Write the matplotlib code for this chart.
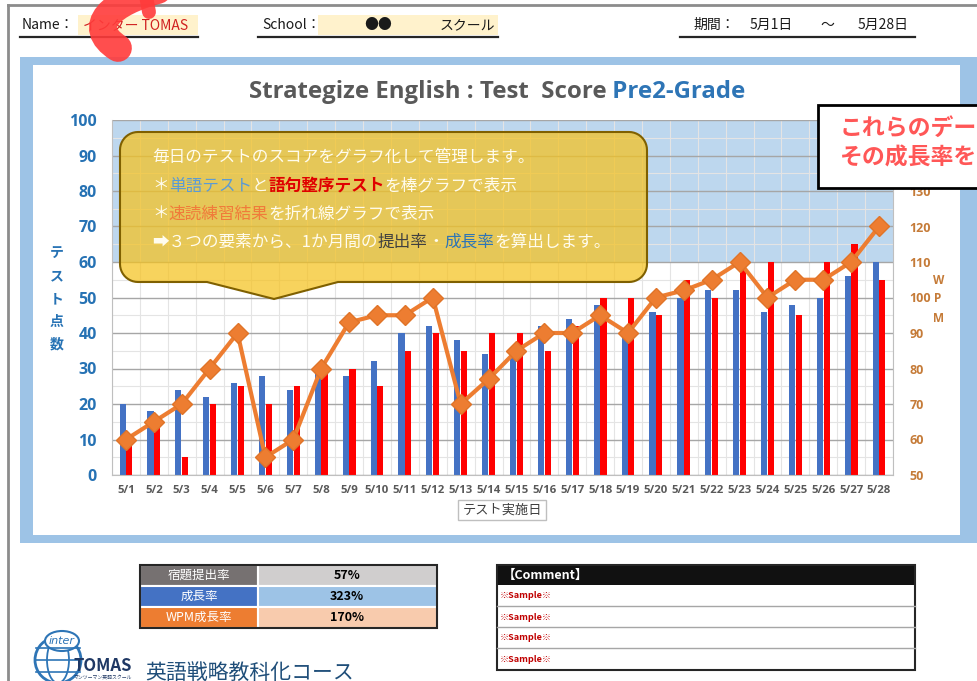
import numpy as np
import matplotlib.pyplot as plt
from matplotlib.patches import Rectangle, PathPatch, Circle, Ellipse
from matplotlib.path import Path

plt.rcParams['font.family'] = ['Open Sans', 'Noto Sans CJK JP', 'DejaVu Sans']
JP = ['Noto Sans CJK JP', 'DejaVu Sans']
NARROW = ['Liberation Sans Narrow', 'Noto Sans CJK JP', 'DejaVu Sans']

W, H = 977, 681

# ---- data ----
dates = ['5/1', '5/2', '5/3', '5/4', '5/5', '5/6', '5/7', '5/8', '5/9', '5/10',
         '5/11', '5/12', '5/13', '5/14', '5/15', '5/16', '5/17', '5/18', '5/19',
         '5/20', '5/21', '5/22', '5/23', '5/24', '5/25', '5/26', '5/27', '5/28']
vocab_score = [20, 18, 24, 22, 26, 28, 24, 30, 28, 32, 40, 42, 38, 34,
               34, 42, 44, 48, 40, 46, 50, 52, 52, 46, 48, 50, 56, 60]
order_score = [10, 15, 5, 20, 25, 20, 25, 30, 30, 25, 35, 40, 35, 40,
               40, 35, 42, 50, 50, 45, 55, 50, 60, 60, 45, 60, 65, 55]
wpm = [60, 65, 70, 80, 90, 55, 60, 80, 93, 95, 95, 100, 70, 77,
       85, 90, 90, 95, 90, 100, 102, 105, 110, 100, 105, 105, 110, 120]

score_ticks = [0, 10, 20, 30, 40, 50, 60, 70, 80, 90, 100]
wpm_ticks = [50, 60, 70, 80, 90, 100, 110, 120, 130, 140, 150]
# 140 and 150 sit under the red note box in the original
wpm_labels = ['50', '60', '70', '80', '90', '100', '110', '120', '130', '', '']

summary_labels = ['宿題提出率', '成長率', 'WPM成長率']
summary_values = ['57%', '323%', '170%']
comments = ['※Sample※', '※Sample※', '※Sample※', '※Sample※']


def box(l, t, r, b):
    return [l / W, 1 - b / H, (r - l) / W, (b - t) / H]


fig = plt.figure(figsize=(W / 100, H / 100), dpi=100)
fig.patch.set_facecolor('white')
renderer = fig.canvas.get_renderer()

bg = fig.add_axes([0, 0, 1, 1], zorder=0)
bg.set_xlim(0, W)
bg.set_ylim(H, 0)
bg.axis('off')

fg = fig.add_axes([0, 0, 1, 1], zorder=3)
fg.set_xlim(0, W)
fg.set_ylim(H, 0)
fg.axis('off')
fg.patch.set_visible(False)


def rich(axo, x, y, parts, center=False, **kw):
    texts = []
    cx = x
    for s, props in parts:
        p = dict(kw)
        p.update(props)
        t = axo.text(cx, y, s, ha='left', va='center', **p)
        cx += t.get_window_extent(renderer).width
        texts.append(t)
    if center:
        shift = (cx - x) / 2
        for t in texts:
            t.set_x(t.get_position()[0] - shift)


# page border
bg.plot([8, 8], [5, H], color='#8C8C8C', lw=2)
bg.plot([8, W], [5, 5], color='#8C8C8C', lw=2)

# header
bg.add_patch(Rectangle((78, 15), 120, 20, fc='#FFF2CC', ec='none'))
bg.add_patch(Rectangle((318, 15), 180, 20, fc='#FFF2CC', ec='none'))
for x0, x1 in [(20, 198), (258, 498), (680, 915)]:
    bg.plot([x0, x1], [37, 37], color='#262626', lw=1.6)
hkw = dict(va='center', fontsize=10, family=NARROW, color='#1A1A1A')
bg.text(22, 25, 'Name：', **hkw)
bg.text(83, 25, 'インター TOMAS', **{**hkw, 'color': '#D02020'})
bg.text(262, 25, 'School：', **hkw)
bg.text(378, 25, '●●', ha='center', **hkw)
bg.text(440, 25, 'スクール', **hkw)
bg.text(693, 25, '期間：', **hkw)
bg.text(750, 25, '5月1日', **hkw)
bg.text(820, 25, '～', **hkw)
bg.text(858, 25, '5月28日', **hkw)

# chart frame
bg.add_patch(Rectangle((20, 57), W - 20, 486, fc='#9DC3E6', ec='none'))
bg.add_patch(Rectangle((33, 65), 927, 470, fc='white', ec='none'))

rich(bg, 497, 92, [('Strategize English : Test  Score', dict(color='#595959')),
                   (' Pre2-Grade', dict(color='#2E75B6'))],
     center=True, fontsize=17.3, fontweight='bold', family=['Open Sans'])

# main chart
ax = fig.add_axes(box(112, 120, 893, 475), zorder=1)
ax.set_facecolor('none')
x = np.arange(len(dates))
ax.axhspan(60, 100, color='#BDD7EE', zorder=0, lw=0)
ax.bar(x - 0.12, vocab_score, 0.22, color='#4472C4', zorder=2)
ax.bar(x + 0.12, order_score, 0.22, color='#FF0000', zorder=2)
ax.set_xlim(-0.5, len(dates) - 0.5)
ax.set_ylim(0, 100)
ax.set_yticks(score_ticks, labels=[str(v) for v in score_ticks],
              fontweight='bold', fontsize=11.5, color='#2672B4')
ax.set_yticks(np.arange(0, 101, 5), minor=True)
ax.set_xticks(x, labels=dates, fontweight='bold', fontsize=8.2, color='#595959')
ax.set_xticks(np.arange(-0.5, len(dates), 1), minor=True)
ax.yaxis.grid(True, which='major', color='#A6A6A6', lw=1)
ax.yaxis.grid(True, which='minor', color='#E4E4E4', lw=0.8)
ax.xaxis.grid(True, which='minor', color='#E4E4E4', lw=0.8)
ax.set_axisbelow(True)
ax.tick_params(axis='y', which='both', length=0, pad=11)
ax.tick_params(axis='x', which='both', length=0, pad=7)
for s in ['left', 'bottom', 'right']:
    ax.spines[s].set_color('#BFBFBF')
ax.spines['top'].set_visible(False)

ax2 = ax.twinx()
ax2.set_zorder(2)
ax2.patch.set_visible(False)
ax2.plot(x, wpm, color='#ED7D31', lw=3, marker='D', ms=10,
         mfc='#ED7D31', mec='#E07428', mew=1)
ax2.set_ylim(50, 150)
ax2.set_yticks(wpm_ticks, labels=wpm_labels,
               fontweight='bold', fontsize=9, color='#C57B38')
ax2.tick_params(axis='y', length=0, pad=12)
for s in ax2.spines.values():
    s.set_visible(False)

# axis titles
for ch, yy in zip('テスト点数', [253, 276, 299, 322, 345]):
    bg.text(57, yy, ch, ha='center', va='center', fontsize=10,
            fontweight='bold', color='#2672B4', family=JP)
for ch, xx, yy in zip('WPM', [939, 938, 939], [280, 299, 318]):
    bg.text(xx, yy, ch, ha='center', va='center', fontsize=8.5,
            fontweight='bold', color='#C57B38', family=['Open Sans'])
bg.text(502, 510, 'テスト実施日', ha='center', va='center', fontsize=9.5,
        color='#404040', family=JP,
        bbox=dict(boxstyle='square,pad=0.3', fc='white', ec='#BFBFBF', lw=1))

# yellow callout
x0, x1, y0, y1, r = 120, 647, 132, 282, 18
xa, xb, apx, apy = 207, 338, 274, 299


def arc(cx, cy, a0, a1):
    t = np.radians(np.linspace(a0, a1, 12))
    return list(zip(cx + r * np.cos(t), cy + r * np.sin(t)))


pts = [(x0 + r, y0), (x1 - r, y0)]
pts += arc(x1 - r, y0 + r, -90, 0)
pts += [(x1, y1 - r)]
pts += arc(x1 - r, y1 - r, 0, 90)
pts += [(xb, y1), (apx, apy), (xa, y1), (x0 + r, y1)]
pts += arc(x0 + r, y1 - r, 90, 180)
pts += [(x0, y0 + r)]
pts += arc(x0 + r, y0 + r, 180, 270)
pts += [(x0 + r, y0)]
fg.add_patch(PathPatch(Path(pts, closed=True), fc='#F5C21E', alpha=0.72,
                       ec='none'))
fg.add_patch(PathPatch(Path(pts, closed=True), fc='none', ec='#7F6000', lw=1.5))

WH = '#FFFCEE'
ckw = dict(fontsize=12, family=JP)
rich(fg, 152, 157, [('毎日のテストのスコアをグラフ化して管理します。', dict(color=WH))], **ckw)
rich(fg, 152, 186, [('＊', dict(color=WH)), ('単語テスト', dict(color='#5B9BD5')),
                    ('と', dict(color=WH)),
                    ('語句整序テスト', dict(color='#E00000', fontweight='bold')),
                    ('を棒グラフで表示', dict(color=WH))], **ckw)
rich(fg, 152, 214, [('＊', dict(color=WH)), ('速読練習結果', dict(color='#F07B3A')),
                    ('を折れ線グラフで表示', dict(color=WH))], **ckw)
rich(fg, 152, 242, [('➡３つの要素から、1か月間の', dict(color=WH)),
                    ('提出率', dict(color='#404040')), ('・', dict(color=WH)),
                    ('成長率', dict(color='#2E75B6')),
                    ('を算出します。', dict(color=WH))], **ckw)

# red note box (cut off at the right edge)
fg.add_patch(Rectangle((818, 105), 175, 83, fc='white', ec='black', lw=2))
fg.text(840, 128, 'これらのデー', va='center', fontsize=16.5,
        fontweight='bold', color='#FF5757', family=JP)
fg.text(840, 158, 'その成長率を', va='center', fontsize=16.5,
        fontweight='bold', color='#FF5757', family=JP)

# red brush stroke at the top
brush = Path([(158, -10), (112, 2), (84, 26), (118, 48)],
             [Path.MOVETO, Path.CURVE4, Path.CURVE4, Path.CURVE4])
fg.add_patch(PathPatch(brush, fc='none', ec='#FF3B3B', lw=20, alpha=0.9,
                       capstyle='round'))
fg.add_patch(PathPatch(Path([(146, -4), (149, 12)]), fc='none', ec='#FF3B3B',
                       lw=10, alpha=0.9, capstyle='round'))

# summary table
label_bg = ['#767171', '#4472C4', '#ED7D31']
value_bg = ['#D0CECE', '#9DC3E6', '#F8CBAD']
for i, (lab, val) in enumerate(zip(summary_labels, summary_values)):
    ty = 565 + i * 21
    bg.add_patch(Rectangle((140, ty), 118, 21, fc=label_bg[i], ec='white', lw=1.5))
    bg.add_patch(Rectangle((258, ty), 179, 21, fc=value_bg[i], ec='white', lw=1.5))
    bg.text(199, ty + 10.5, lab, ha='center', va='center', fontsize=9,
            color='white', family=NARROW)
    bg.text(347, ty + 10.5, val, ha='center', va='center', fontsize=9,
            color='black', fontweight='bold', family=NARROW)
bg.add_patch(Rectangle((140, 565), 297, 63, fc='none', ec='#262626', lw=1.5))

# comment box
bg.add_patch(Rectangle((497, 565), 418, 20, fc='#111111', ec='none'))
bg.text(503, 575, '【Comment】', va='center', fontsize=9, color='white',
        fontweight='bold', family=NARROW)
for k, c in enumerate(comments):
    cy = 585 + k * 21
    if k:
        bg.plot([497, 915], [cy, cy], color='#A6A6A6', lw=1)
    bg.text(500, cy + 11, c, va='center', fontsize=6.5, color='#C00000',
            fontweight='bold', family=NARROW)
bg.add_patch(Rectangle((497, 565), 418, 105, fc='none', ec='#262626', lw=1.5))

# logo
bg.add_patch(Circle((58, 660), 23, fc='none', ec='#2E75B6', lw=2))
bg.add_patch(Ellipse((58, 660), 22, 46, fc='none', ec='#2E75B6', lw=1.3))
for yy in [648, 660, 672]:
    bg.plot([36, 80], [yy, yy], color='#2E75B6', lw=1.2)
bg.add_patch(Ellipse((62, 641), 34, 20, fc='white', ec='#2E75B6', lw=1.5))
bg.text(62, 641, 'inter', ha='center', va='center', fontsize=8, style='italic',
        color='#2E75B6', family=['DejaVu Sans'])
bg.text(73, 666, 'TOMAS', va='center', fontsize=12, fontweight='bold',
        color='#1F3864', family=NARROW)
bg.text(73, 677, 'マンツーマン英語スクール', va='center', fontsize=3.5,
        color='#1F3864', family=JP)
bg.text(145, 673, '英語戦略教科化コース', va='center', fontsize=15,
        color='#1F4E79', family=JP)

fig.savefig('out.png', dpi=100)
